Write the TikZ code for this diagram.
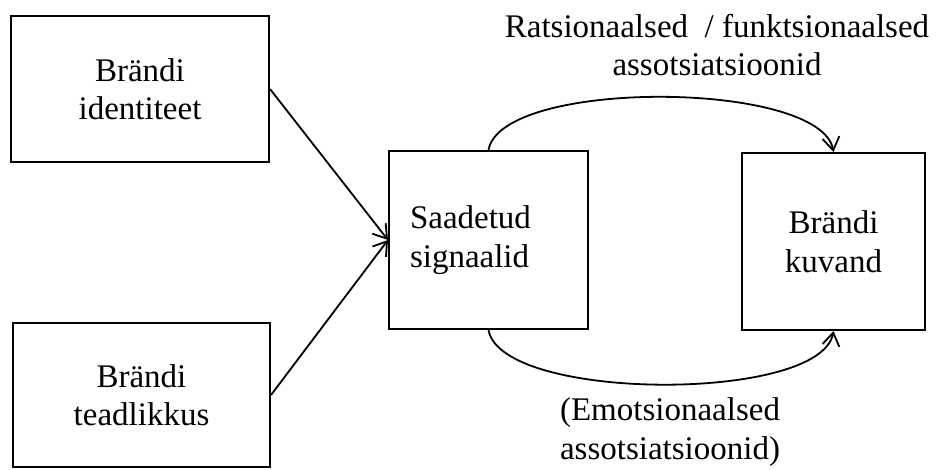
\documentclass[tikz,border=0pt]{standalone}
\usepackage{fontspec}
\setmainfont{Liberation Serif}
\usetikzlibrary{arrows.meta}

\begin{document}
\begin{tikzpicture}[x=1pt,y=1pt,
  font=\fontsize{33}{38.5}\selectfont,
  box/.style={draw, line width=2pt, align=center, inner sep=0pt},
  link/.style={line width=1.8pt, -{Straight Barb[length=13pt,width=17pt,line width=1.8pt]}},
  note/.style={align=center, inner sep=0pt}]
  \useasboundingbox (0,0) rectangle (936,469);

  % source boxes on the left
  \node[box, minimum width=258pt, minimum height=146pt] (ident) at (140,380) {Brändi\\identiteet};
  \node[box, minimum width=257pt, minimum height=144pt] (aware) at (141.5,74) {Brändi\\teadlikkus};

  % signals box, text set flush left
  \node[box, align=left, text width=157pt, inner xsep=21pt,
        minimum height=178pt] (sig) at (488.5,229) {Saadetud\\signaalid};

  % brand image box
  \node[box, minimum width=183pt, minimum height=177pt] (image) at (833.5,227.5) {Brändi\\kuvand};

  % inputs into the signals box
  \draw[link] (ident.east) -- (sig.west);
  \draw[link] (aware.east) -- (sig.west);

  % associations from signals to image
  \draw[link] (sig.north) to[out=80, in=100, looseness=0.54] (image.north);
  \draw[link] (sig.south) to[out=-80, in=-100, looseness=0.54] (image.south);

  % association labels
  \node[note] (rat) at (717,424) {Ratsionaalsed\ \ / funktsionaalsed\\assotsiatsioonid};
  \node[note] (emo) at (670,37) {(Emotsionaalsed\\assotsiatsioonid)};
\end{tikzpicture}
\end{document}
